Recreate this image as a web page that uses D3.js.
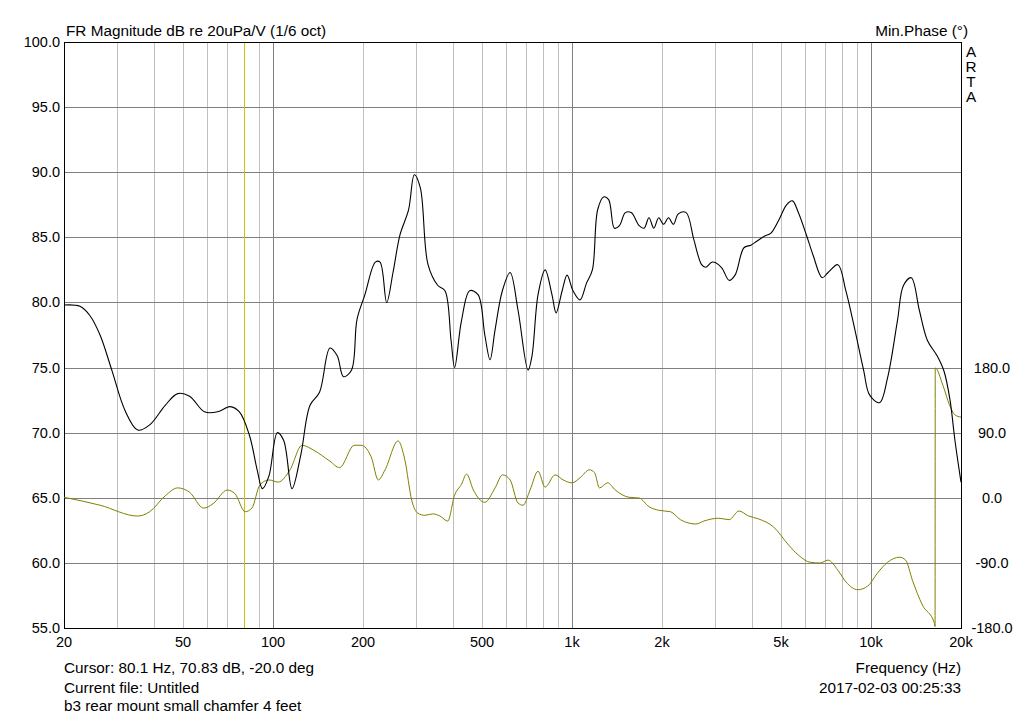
<!DOCTYPE html>
<html><head><meta charset="utf-8">
<script src="https://cdn.jsdelivr.net/npm/d3@7"></script>
<style>
body{margin:0;background:#fff;font-family:"Liberation Sans",Arial,sans-serif;}
text{font-family:"Liberation Sans",Arial,sans-serif;font-size:15.3px;fill:#000;}
text.tick{font-size:14.5px;}
</style></head><body>
<svg id="chart" width="1024" height="718"></svg>
<script>
// magnitude, dB re 20uPa/V
const magFreq = [20,22.6,24.4,26.4,28.9,32,35.3,38.7,43.6,48,52.6,59,65.3,71.9,77.2,83.4,88.6,92.2,97,103.4,108.6,115.8,123.9,133,143.1,155,164,172,183,191,203,220,228,240,252,266,284,297,311,330,356,376,394,405,427,455,485,511,532,553,585,621,660,713,735,770,813,857,885,927,963,1008,1064,1119,1170,1218,1275,1326,1386,1441,1508,1578,1677,1742,1809,1878,1950,2025,2103,2184,2268,2408,2557,2714,2799,2949,3158,3354,3510,3759,3965,4151,4412,4617,4909,5220,5462,5715,6077,6408,6867,7185,7750,8239,8757,9447,9889,10680,11360,12260,12840,13640,14510,15430,16640,17560,18380,19090,20000]
const magDb = [79.8,79.7,79.0,77.5,74.8,71.7,70.2,70.6,72.1,73.0,72.8,71.6,71.6,72.0,71.6,69.8,67.1,65.7,66.7,70.0,69.4,65.7,68.3,72.1,73.1,76.5,75.9,74.3,74.8,78.7,80.6,83.1,83.1,80.0,82.3,85.2,87.1,89.8,88.8,82.9,81.3,80.9,77.1,75.0,78.6,80.9,80.6,77.5,75.6,77.9,80.9,82.3,79.4,74.8,75.9,80.6,82.5,80.6,79.2,80.9,82.1,80.9,80.2,81.5,82.5,87.1,88.1,87.9,85.7,85.9,86.9,86.9,85.9,85.7,86.5,85.7,86.5,86.0,86.5,86.0,86.8,86.9,84.8,82.9,82.7,83.1,82.7,81.7,82.1,84.2,84.4,84.7,85.1,85.3,86.3,87.5,87.8,86.9,85.2,83.6,81.9,82.3,82.9,80.9,78.3,74.8,72.9,72.3,74.2,78.6,81.3,81.9,79.4,77.1,75.9,74.7,72.5,69.4,66.2]

// minimum phase, degrees
const phFreq = [20,26.4,35.3,38.7,43.6,48,52.6,58.6,63,70.3,74.6,80.7,85,90.4,97,104,114,125,137,155,167,187,197,213,225,237,262,276,291,305,322,342,362,384,405,427,444,468,511,553,586,621,660,686,724,770,813,878,934,1001,1064,1144,1190,1236,1316,1396,1552,1677,1809,1950,2136,2304,2597,2757,3090,3354,3620,3898,4210,4720,5300,5715,6260,6760,7185,7750,8239,9030,9750,10510,11360,12460,13060,13760,14850,16290,16380,16400,17400,18300,19100,20000]
const phDeg = [1,-10,-25,-19,3,14,8,-14,-8,11,6,-19,-14,18,25,22,39,73,66,51,42,73,73,57,25,39,79,53,-3,-21,-24,-22,-25,-32,4,19,33,11,-6,14,32,25,-7,-10,11,37,15,32,25,21,28,39,35,14,21,11,1,0,-12,-17,-19,-30,-36,-32,-28,-30,-18,-25,-29,-40,-65,-79,-89,-90,-86,-100,-116,-127,-122,-104,-89,-82,-86,-114,-148,-173,-178,180,156,129,115,112]

const xTicks = [20,50,100,200,500,1000,2000,5000,10000,20000]
const xTickLabels = ["20","50","100","200","500","1k","2k","5k","10k","20k"]
const dbTicks = [100,95,90,85,80,75,70,65,60,55]
const phTicks = [180,90,0,-90,-180]
const cursorHz = 80.1

const pL = 64, pR = 961, pT = 42, pB = 628
const svg = d3.select("#chart")

const x = d3.scaleLog().domain([20,20000]).range([pL,pR])
const y = d3.scaleLinear().domain([55,100]).range([pB,pT])
const yPh = d3.scaleLinear().domain([-180,180]).range([pB,368])

// vertical grid
let minor = []
for (let dec of [10,100,1000,10000]) {
  for (let k = 2; k <= 9; k++) {
    let f = dec*k
    if (f > 20 && f < 20000) minor.push(f)
  }
}
svg.selectAll("line.minor").data(minor).enter().append("line")
  .attr("x1", d => Math.round(x(d))+0.5).attr("x2", d => Math.round(x(d))+0.5)
  .attr("y1", pT).attr("y2", pB)
  .attr("stroke", "#c0c0c0")
svg.selectAll("line.major").data([100,1000,10000]).enter().append("line")
  .attr("x1", d => Math.round(x(d))+0.5).attr("x2", d => Math.round(x(d))+0.5)
  .attr("y1", pT).attr("y2", pB)
  .attr("stroke", "#808080")

// horizontal grid
svg.selectAll("line.hgrid").data(dbTicks.slice(1,-1)).enter().append("line")
  .attr("x1", pL).attr("x2", pR)
  .attr("y1", d => Math.round(y(d))+0.5).attr("y2", d => Math.round(y(d))+0.5)
  .attr("stroke", "#808080")

// cursor
svg.append("line")
  .attr("x1", Math.round(x(cursorHz))+0.5).attr("x2", Math.round(x(cursorHz))+0.5)
  .attr("y1", pT).attr("y2", pB)
  .attr("stroke", "#c8c800")

// frame
svg.append("rect").attr("x", pL+0.5).attr("y", pT+0.5)
  .attr("width", pR-pL).attr("height", pB-pT)
  .attr("fill", "none").attr("stroke", "#000")

// curves
const phLine = d3.line().x(d => x(d[0])).y(d => yPh(d[1])).curve(d3.curveMonotoneX)
svg.append("path").datum(phFreq.map((f,i) => [f, phDeg[i]]))
  .attr("d", phLine).attr("fill", "none").attr("stroke", "#808000").attr("stroke-width", 1)

const magLine = d3.line().x(d => x(d[0])).y(d => y(d[1])).curve(d3.curveCatmullRom)
svg.append("path").datum(magFreq.map((f,i) => [f, magDb[i]]))
  .attr("d", magLine).attr("fill", "none").attr("stroke", "#000").attr("stroke-width", 1.1)

// labels
svg.selectAll("text.db").data(dbTicks).enter().append("text").attr("class", "tick")
  .attr("x", pL-4).attr("y", d => y(d)+5).attr("text-anchor", "end")
  .text(d => d.toFixed(1))
svg.selectAll("text.ph").data(phTicks).enter().append("text").attr("class", "tick")
  .attr("x", 992).attr("y", d => yPh(d)+5).attr("text-anchor", "middle")
  .text(d => d.toFixed(1))
svg.selectAll("text.fx").data(xTicks).enter().append("text").attr("class", "tick")
  .attr("x", d => x(d)).attr("y", pB+19).attr("text-anchor", "middle")
  .text((d,i) => xTickLabels[i])

svg.append("text").attr("x", 66).attr("y", 36).text("FR Magnitude dB re 20uPa/V (1/6 oct)")
svg.append("text").attr("x", 968).attr("y", 36).attr("text-anchor", "end").text("Min.Phase (°)")
"ARTA".split("").forEach((c,i) => {
  svg.append("text").attr("x", 971).attr("y", 57+i*15).attr("text-anchor", "middle").text(c)
})
svg.append("text").attr("x", 64).attr("y", 673).text("Cursor: 80.1 Hz, 70.83 dB, -20.0 deg")
svg.append("text").attr("x", 64).attr("y", 693).text("Current file: Untitled")
svg.append("text").attr("x", 64).attr("y", 711).text("b3 rear mount small chamfer 4 feet")
svg.append("text").attr("x", 961).attr("y", 673).attr("text-anchor", "end").text("Frequency (Hz)")
svg.append("text").attr("x", 961).attr("y", 693).attr("text-anchor", "end").text("2017-02-03  00:25:33")
</script>
</body></html>
